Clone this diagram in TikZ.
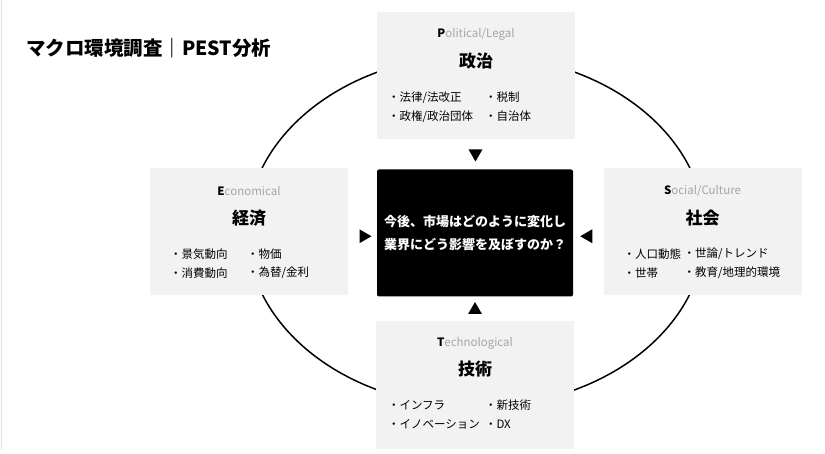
\documentclass[tikz,border=0pt]{standalone}
\usepackage{fontspec}
\setmainfont{Noto Sans CJK JP}
\usetikzlibrary{calc,shapes.geometric}
\definecolor{boxgray}{HTML}{F2F2F2}
\definecolor{headgray}{HTML}{A6A6A6}
\newcommand{\initial}[1]{{\color{black}\bfseries #1}}
\tikzset{
  pestbox/.style={fill=boxgray,minimum width=198pt,minimum height=127pt,inner sep=0pt},
  head/.style={text=headgray,font=\fontsize{11.5}{11.5}\selectfont,inner sep=0pt},
  boxtitle/.style={font=\fontsize{17}{17}\selectfont\bfseries,inner sep=0pt},
  item/.style={anchor=west,font=\fontsize{11.5}{11.5}\selectfont,inner sep=0pt},
  marker/.style={regular polygon,regular polygon sides=3,fill=black,minimum size=16pt,inner sep=0pt}
}
\begin{document}
\begin{tikzpicture}[x=1pt,y=-1pt]
\useasboundingbox (0,0) rectangle (825,454);
\draw[black!12,line width=.8pt] (1.5,0)--(1.5,449);
\node[anchor=west,font=\fontsize{19.5}{19.5}\selectfont\bfseries,inner sep=0pt] (title) at (26,48) {マクロ環境調査｜PEST分析};
% ring behind the four boxes
\draw[line width=1.5pt] (476,231) ellipse (229 and 176);
\node[pestbox] (pol) at (476,76) {};
\node[pestbox] (eco) at (249,231.5) {};
\node[pestbox] (soc) at (702.5,231.5) {};
\node[pestbox] (tec) at (475,385) {};
\node[fill=black,rounded corners=2pt,minimum width=196pt,minimum height=127pt,inner sep=0pt,
  text=white,align=center,font=\fontsize{13}{23}\selectfont\bfseries] (core) at (475,233)
  {今後、市場はどのように変化し\\業界にどう影響を及ぼすのか？};
% political
\node[head] (polhead) at ($(pol.north)+(0,22)$) {\initial{P}olitical/Legal};
\node[boxtitle] (poltitle) at ($(pol.north)+(0,49)$) {政治};
\node[item] (pol1) at ($(pol.north west)+(11,85)$) {・法律/法改正};
\node[item] (pol2) at ($(pol.north west)+(11,104)$) {・政権/政治団体};
\node[item] (pol3) at ($(pol.north west)+(108,85)$) {・税制};
\node[item] (pol4) at ($(pol.north west)+(108,104)$) {・自治体};
% economical
\node[head] (ecohead) at ($(eco.north)+(0,23)$) {\initial{E}conomical};
\node[boxtitle] (ecotitle) at ($(eco.north)+(0,50)$) {経済};
\node[item] (eco1) at ($(eco.north west)+(20,86)$) {・景気動向};
\node[item] (eco2) at ($(eco.north west)+(20,105)$) {・消費動向};
\node[item] (eco3) at ($(eco.north west)+(97,86)$) {・物価};
\node[item] (eco4) at ($(eco.north west)+(97,105)$) {・為替/金利};
% social
\node[head] (sochead) at ($(soc.north)+(0,23)$) {\initial{S}ocial/Culture};
\node[boxtitle] (soctitle) at ($(soc.north)+(0,50)$) {社会};
\node[item] (soc1) at ($(soc.north west)+(20,86)$) {・人口動態};
\node[item] (soc2) at ($(soc.north west)+(20,105)$) {・世帯};
\node[item] (soc3) at ($(soc.north west)+(80,86)$) {・世論/トレンド};
\node[item] (soc4) at ($(soc.north west)+(80,105)$) {・教育/地理的環境};
% technological
\node[head] (techead) at ($(tec.north)+(0,22)$) {\initial{T}echnological};
\node[boxtitle] (tectitle) at ($(tec.north)+(0,48)$) {技術};
\node[item] (tec1) at ($(tec.north west)+(12,84)$) {・インフラ};
\node[item] (tec2) at ($(tec.north west)+(12,103)$) {・イノベーション};
\node[item] (tec3) at ($(tec.north west)+(109,84)$) {・新技術};
\node[item] (tec4) at ($(tec.north west)+(109,103)$) {・DX};
% markers pointing to the centre
\node[marker,shape border rotate=180] (polmark) at ($(pol.south)!0.5!(core.north)+(0,-1)$) {};
\node[marker] (tecmark) at ($(core.south)!0.5!(tec.north)+(0,1)$) {};
\node[marker,shape border rotate=-90] (ecomark) at ($(eco.east)!0.5!(core.west)+(1,4)$) {};
\node[marker,shape border rotate=90] (socmark) at ($(core.east)!0.5!(soc.west)+(0,4)$) {};
\end{tikzpicture}
\end{document}
